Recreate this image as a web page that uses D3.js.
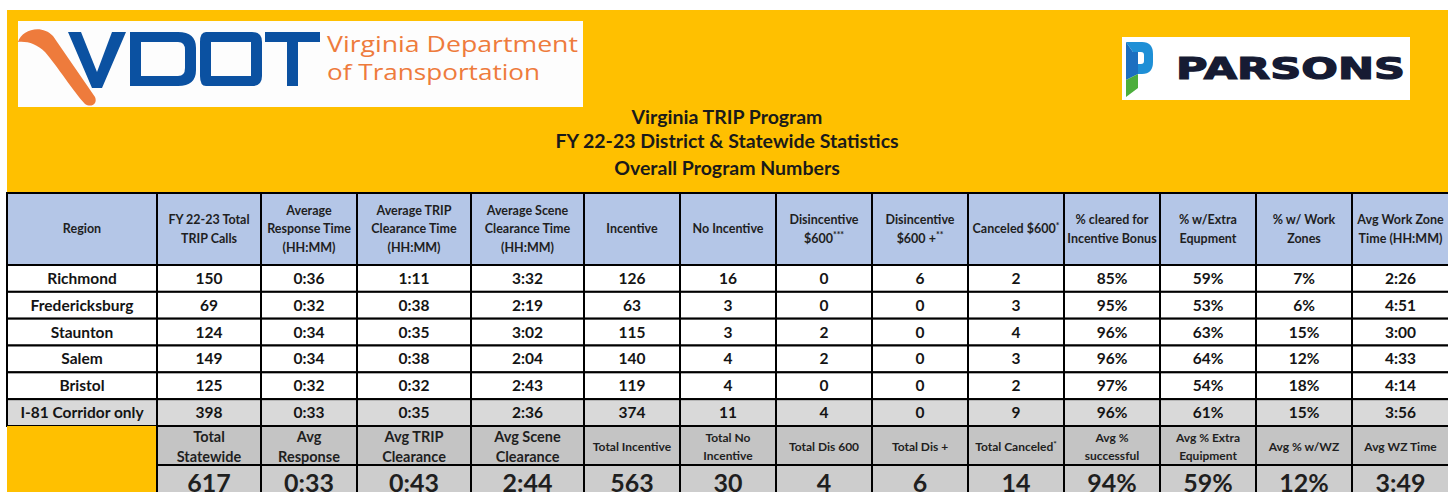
<!DOCTYPE html>
<html>
<head>
<meta charset="utf-8">
<script src="https://cdn.jsdelivr.net/npm/d3@7"></script>
<style>
  body { margin: 0; background: #fff; }
  svg { display: block; font-family: Lato, "Open Sans", sans-serif; }
</style>
</head>
<body>
<div id="table"></div>
<script>
// Table data
var regions = ["Richmond", "Fredericksburg", "Staunton", "Salem", "Bristol", "I-81 Corridor only"];
var totalCalls = [150, 69, 124, 149, 125, 398];
var avgResponse = ["0:36", "0:32", "0:34", "0:34", "0:32", "0:33"];
var avgTripClearance = ["1:11", "0:38", "0:35", "0:38", "0:32", "0:35"];
var avgSceneClearance = ["3:32", "2:19", "3:02", "2:04", "2:43", "2:36"];
var incentive = [126, 63, 115, 140, 119, 374];
var noIncentive = [16, 3, 3, 4, 4, 11];
var disincentive600 = [0, 0, 2, 2, 0, 4];
var disincentivePlus = [6, 0, 0, 0, 0, 0];
var canceled600 = [2, 3, 4, 3, 2, 9];
var pctCleared = ["85%", "95%", "96%", "96%", "97%", "96%"];
var pctExtraEquipment = ["59%", "53%", "63%", "64%", "54%", "61%"];
var pctWorkZones = ["7%", "6%", "15%", "12%", "18%", "15%"];
var avgWorkZoneTime = ["2:26", "4:51", "3:00", "4:33", "4:14", "3:56"];

// header labels ("|" = line break, "^" starts superscript)
var headers = ["Region", "FY  22-23 Total|TRIP Calls", "Average|Response Time|(HH:MM)",
  "Average TRIP|Clearance Time|(HH:MM)", "Average Scene|Clearance Time|(HH:MM)", "Incentive",
  "No Incentive", "Disincentive|$600^***", "Disincentive|$600 +^**", "Canceled $600^*",
  "% cleared for|Incentive Bonus", "% w/Extra|Equpment", "% w/ Work|Zones", "Avg Work Zone|Time (HH:MM)"];

var totalLabels = ["Total|Statewide", "Avg|Response", "Avg TRIP|Clearance", "Avg Scene|Clearance",
  "Total Incentive", "Total No|Incentive", "Total Dis 600", "Total Dis +", "Total Canceled^*",
  "Avg %|successful", "Avg % Extra|Equipment", "Avg % w/WZ", "Avg WZ Time"];
var totalValues = ["617", "0:33", "0:43", "2:44", "563", "30", "4", "6", "14", "94%", "59%", "12%", "3:49"];

var titleLines = ["Virginia TRIP Program", "FY 22-23 District & Statewide Statistics", "Overall Program Numbers"];

// Layout
var svgWidth = 1448;
var svgHeight = 492;
var colWidths = [150, 104, 96, 114, 113, 96, 96, 96, 96, 96, 96, 96, 96, 97];
var colEdges = [7];
colWidths.forEach(function(w) { colEdges.push(colEdges[colEdges.length - 1] + w); });

var headerTop = 193, headerBottom = 265, bodyBottom = 426, labelBottom = 465, totalsBottom = 496;

var yellow = "#ffc000";

var svg = d3.select("#table").append("svg")
  .attr("width", svgWidth)
  .attr("height", svgHeight);

// Banner
svg.append("rect")
  .attr("x", 7).attr("y", 10)
  .attr("width", svgWidth - 7).attr("height", headerTop - 10)
  .attr("fill", yellow);

// VDOT logo
var vdot = svg.append("g");
vdot.append("rect").attr("x", 18).attr("y", 21).attr("width", 565).attr("height", 86).attr("fill", "#fdfdfd");
vdot.append("path")
  .attr("d", "M18,42 C22,29 42,24 53,36 L95,97 C98,104 91,108 85,104 C74,92 57,66 45,52 C37,44 27,41 18,42 Z")
  .attr("fill", "#ee7b3c");
vdot.append("path")
  .attr("d", "M68,32 L81,32 L97,72 L112,32 L126,32 L102,88 L92,88 Z")
  .attr("fill", "#0b51a1");
// D
vdot.append("path")
  .attr("d", "M130,32 L178,32 Q196,32 196,48 L196,70 Q196,86 178,86 L130,86 Z M141,42 L141,76 L178,76 Q185,76 185,68 L185,50 Q185,42 178,42 Z")
  .attr("fill", "#0b51a1").attr("fill-rule", "evenodd");
// O
vdot.append("path")
  .attr("d", "M206,32 L252,32 Q262,32 262,42 L262,76 Q262,86 252,86 L206,86 Q200,86 200,76 L200,42 Q200,32 206,32 Z M211,42 L211,76 L251,76 L251,42 Z")
  .attr("fill", "#0b51a1").attr("fill-rule", "evenodd");
// T
vdot.append("path")
  .attr("d", "M265,32 L320,32 L320,42 L298,42 L298,86 L287,86 L287,42 L265,42 Z")
  .attr("fill", "#0b51a1");
vdot.selectAll("text.vdot")
  .data(["Virginia Department", "of Transportation"])
  .enter().append("text")
  .attr("x", 327)
  .attr("y", (d, i) => 52 + i * 28)
  .attr("font-family", "'Open Sans', sans-serif")
  .attr("font-size", 22)
  .attr("textLength", (d, i) => [251, 213][i])
  .attr("lengthAdjust", "spacingAndGlyphs")
  .attr("fill", "#ee7b3c")
  .text(d => d);

// Parsons logo
var parsons = svg.append("g");
parsons.append("rect").attr("x", 1122).attr("y", 37).attr("width", 288).attr("height", 63).attr("fill", "#ffffff");
parsons.append("path")
  .attr("d", "M1126,42 L1142,42 Q1153,42 1153,54 L1153,62 Q1153,74 1142,74 L1138,74 L1138,64 L1141,64 Q1144,64 1144,61 L1144,55 Q1144,52 1141,52 L1133,52 Z")
  .attr("fill", "#1e8fd6");
parsons.append("path")
  .attr("d", "M1126,42 L1133,52 L1138,52 L1138,74 L1126,80 Z")
  .attr("fill", "#1c6fc0");
parsons.append("path")
  .attr("d", "M1126,80 L1138,74 L1138,88 L1126,97 Z")
  .attr("fill", "#4cae3c");
parsons.append("text")
  .attr("x", 1176).attr("y", 79)
  .attr("font-family", "'DejaVu Sans', sans-serif")
  .attr("font-weight", 900)
  .attr("font-size", 30)
  .attr("textLength", 229)
  .attr("lengthAdjust", "spacingAndGlyphs")
  .attr("fill", "#161b33")
  .attr("stroke", "#161b33")
  .attr("stroke-width", 1.2)
  .text("PARSONS");

// Title
svg.selectAll("text.title")
  .data(titleLines)
  .enter().append("text")
  .attr("class", "title")
  .attr("x", 727)
  .attr("y", (d, i) => [124, 148, 175][i])
  .attr("text-anchor", "middle")
  .attr("font-size", 19.5)
  .attr("font-weight", "bold")
  .attr("fill", "#1a1a1a")
  .text(d => d);

// Scales
var colScale = d3.scaleOrdinal().domain(d3.range(colWidths.length)).range(colEdges.slice(0, -1));
var yBand = d3.scaleBand().domain(regions).range([headerBottom, bodyBottom]);

function multiline(g, label, cx, cy, size, lineH) {
  var lines = label.split("|");
  var text = g.append("text")
    .attr("text-anchor", "middle")
    .attr("font-weight", "bold")
    .attr("font-size", size)
    .attr("fill", "#1f1f1f");
  lines.forEach(function(line, i) {
    var parts = line.split("^");
    text.append("tspan")
      .attr("x", cx)
      .attr("y", cy + (i - (lines.length - 1) / 2) * lineH + size * 0.35)
      .text(parts[0]);
    if (parts[1]) {
      text.append("tspan")
        .attr("dy", -size * 0.35)
        .attr("font-size", size * 0.7)
        .text(parts[1]);
    }
  });
}

function cell(x, y, w, h, fill) {
  svg.append("rect")
    .attr("x", x).attr("y", y)
    .attr("width", w).attr("height", h)
    .attr("fill", fill)
    .attr("stroke", "#000")
    .attr("stroke-width", 2);
}

// Header row
headers.forEach(function(h, i) {
  var x = colScale(i), w = colWidths[i];
  cell(x, headerTop, w, headerBottom - headerTop, "#b4c6e7");
  multiline(svg, h, x + w / 2, (headerTop + headerBottom) / 2, 12.5, 18.5);
});

// Body rows
var columns = [regions, totalCalls, avgResponse, avgTripClearance, avgSceneClearance, incentive,
  noIncentive, disincentive600, disincentivePlus, canceled600, pctCleared, pctExtraEquipment,
  pctWorkZones, avgWorkZoneTime];

regions.forEach(function(r, ri) {
  var y = yBand(r), h = yBand.bandwidth();
  var fill = ri === regions.length - 1 ? "#d9d9d9" : "#ffffff";
  columns.forEach(function(col, ci) {
    var x = colScale(ci), w = colWidths[ci];
    cell(x, y, w, h, fill);
    svg.append("text")
      .attr("x", x + w / 2)
      .attr("y", y + h / 2 + 5.5)
      .attr("text-anchor", "middle")
      .attr("font-weight", "bold")
      .attr("font-size", 15.5)
      .attr("fill", "#141414")
      .text(col[ri]);
  });
});

// Totals block
svg.append("rect")
  .attr("x", 7).attr("y", bodyBottom)
  .attr("width", colWidths[0]).attr("height", svgHeight - bodyBottom)
  .attr("fill", yellow);

totalLabels.forEach(function(l, i) {
  var ci = i + 1;
  var x = colScale(ci), w = colWidths[ci];
  cell(x, bodyBottom, w, labelBottom - bodyBottom, "#c4c4c4");
  var big = i < 4;
  multiline(svg, l, x + w / 2, (bodyBottom + labelBottom) / 2 + 1, big ? 14.5 : 12, big ? 20 : 18);
  cell(x, labelBottom, w, totalsBottom - labelBottom, "#cdcdcd");
  svg.append("text")
    .attr("x", x + w / 2)
    .attr("y", labelBottom + 27)
    .attr("text-anchor", "middle")
    .attr("font-weight", "bold")
    .attr("font-size", 25)
    .attr("fill", "#1f1f1f")
    .text(totalValues[i]);
});
</script>
</body>
</html>
